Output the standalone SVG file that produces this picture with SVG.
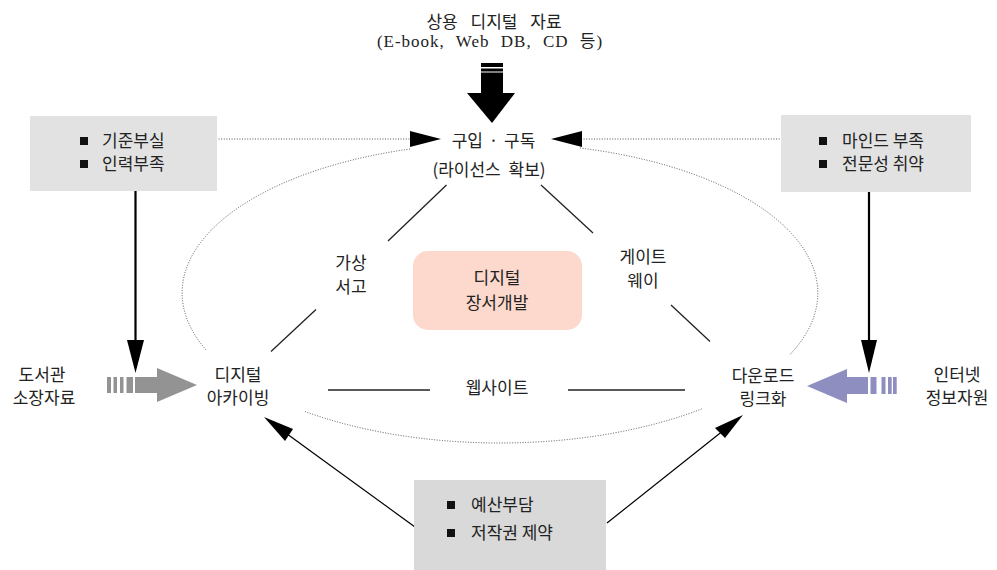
<svg xmlns="http://www.w3.org/2000/svg" width="997" height="570" viewBox="0 0 997 570">
<style>
text{font-family:"Noto Sans CJK KR","Noto Sans",sans-serif;font-size:17px;fill:#222}
.c{text-anchor:middle}
.ser{font-family:"Liberation Serif","Noto Sans CJK KR",serif}
.dot{fill:none;stroke:#555;stroke-width:1;stroke-dasharray:1 1.6}
.ln{stroke:#222;stroke-width:1.3;fill:none}
.box{fill:#e2e2e2}
.bul{fill:#111}
</style>
<rect width="997" height="570" fill="#fff"/>
<g id="connectors">
  <path class="dot" d="M410,149 A318,150 0 0,0 207,351"/>
  <path class="dot" d="M305,411.5 A318,150 0 0,0 702,408.8"/>
  <path class="dot" d="M580,148 A318,150 0 0,1 790,354.5"/>
  <line class="dot" x1="216" y1="139" x2="411" y2="139"/>
  <polygon points="410,131 410,147 441,139" fill="#000"/>
  <line class="dot" x1="581" y1="139" x2="781" y2="139"/>
  <polygon points="582,131 582,147 551,139" fill="#000"/>
  <line class="ln" x1="446.5" y1="185" x2="388" y2="241"/>
  <line class="ln" x1="316" y1="309.5" x2="271" y2="351.5"/>
  <line class="ln" x1="541" y1="185" x2="593" y2="233"/>
  <line class="ln" x1="671" y1="305" x2="710" y2="341.5"/>
  <line class="ln" x1="328" y1="390" x2="430" y2="390"/>
  <line class="ln" x1="568" y1="390" x2="685" y2="390"/>
  <line x1="135.5" y1="191" x2="135.5" y2="342" stroke="#000" stroke-width="2.2"/>
  <polygon points="127,340 144,340 135.5,373" fill="#000"/>
  <line x1="869" y1="192" x2="869" y2="342" stroke="#000" stroke-width="2.2"/>
  <polygon points="861,340 877,340 869,373" fill="#000"/>
  <line x1="415" y1="527" x2="283" y2="431" stroke="#000" stroke-width="1.2"/>
  <polygon points="264,417 293,429 285,441" fill="#000"/>
  <line x1="607" y1="523" x2="724" y2="430" stroke="#000" stroke-width="1.2"/>
  <polygon points="743,415 725,438 715,428" fill="#000"/>
  <g id="top-arrow" fill="#000">
    <rect x="481" y="63" width="22" height="4"/>
    <rect x="481" y="68.5" width="22" height="3"/>
    <rect x="481" y="72.5" width="22" height="21"/>
    <polygon points="467,93 515,93 492,123"/>
  </g>
  <g id="gray-arrow" fill="#939393">
    <rect x="107" y="377" width="4" height="16"/>
    <rect x="113.5" y="377" width="3.5" height="16"/>
    <rect x="120" y="377" width="3.5" height="16"/>
    <rect x="126.5" y="377" width="6.5" height="16"/>
    <rect x="135" y="377" width="23" height="16"/>
    <polygon points="157,368 157,402 197,385"/>
  </g>
  <g id="purple-arrow" fill="#8e8ec0">
    <polygon points="807,386 847,369 847,403"/>
    <rect x="846" y="377" width="22" height="17"/>
    <rect x="870.5" y="377" width="6" height="17"/>
    <rect x="881.5" y="377" width="4" height="17"/>
    <rect x="888" y="377" width="3.7" height="17"/>
    <rect x="893" y="377" width="3.7" height="17"/>
  </g>
</g>
<g id="n-commercial">
  <text class="c" x="494" y="28" font-size="18" word-spacing="9">상용 디지털 자료</text>
  <text class="c ser" x="490" y="47" font-size="20" letter-spacing="1" word-spacing="6">(E-book, Web DB, CD 등)</text>
</g>
<g id="n-purchase">
  <text class="c" x="493.5" y="147" font-size="18" word-spacing="2">구입 · 구독</text>
  <text class="c" x="489" y="176" font-size="18" word-spacing="4">(라이선스 확보)</text>
</g>
<g id="n-left-box">
  <rect class="box" x="30" y="116" width="187" height="75"/>
  <rect class="bul" x="80" y="137" width="8" height="8"/>
  <rect class="bul" x="80" y="160" width="8" height="8"/>
  <text x="102" y="147">기준부실</text>
  <text x="102" y="170">인력부족</text>
</g>
<g id="n-right-box">
  <rect class="box" x="781" y="115" width="190" height="77"/>
  <rect class="bul" x="819" y="137" width="8" height="8"/>
  <rect class="bul" x="819" y="160" width="8" height="8"/>
  <text x="842" y="147">마인드 부족</text>
  <text x="842" y="170">전문성 취약</text>
</g>
<g id="n-bottom-box">
  <rect x="414" y="480" width="192" height="90" fill="#d9d9d9"/>
  <rect class="bul" x="447" y="501" width="8" height="8"/>
  <rect class="bul" x="447" y="529" width="8" height="8"/>
  <text x="471" y="511">예산부담</text>
  <text x="471" y="539">저작권 제약</text>
</g>
<g id="n-center">
  <rect x="413" y="251" width="169" height="79" rx="15" fill="#fdd8cc"/>
  <text class="c" x="497" y="284">디지털</text>
  <text class="c" x="497" y="309">장서개발</text>
</g>
<g id="n-virtual">
  <text class="c" x="351" y="269">가상</text>
  <text class="c" x="351" y="292.5">서고</text>
</g>
<g id="n-gateway">
  <text class="c" x="643" y="263">게이트</text>
  <text class="c" x="643" y="286.5">웨이</text>
</g>
<g id="n-library">
  <text class="c" x="42" y="381">도서관</text>
  <text class="c" x="44" y="404">소장자료</text>
</g>
<g id="n-archive">
  <text class="c" x="238" y="381">디지털</text>
  <text class="c" x="238" y="404">아카이빙</text>
</g>
<g id="n-website">
  <text class="c" x="497" y="394">웹사이트</text>
</g>
<g id="n-download">
  <text class="c" x="763" y="381.5">다운로드</text>
  <text class="c" x="763" y="405">링크화</text>
</g>
<g id="n-internet">
  <text class="c" x="957" y="381">인터넷</text>
  <text class="c" x="957" y="404">정보자원</text>
</g>
</svg>
